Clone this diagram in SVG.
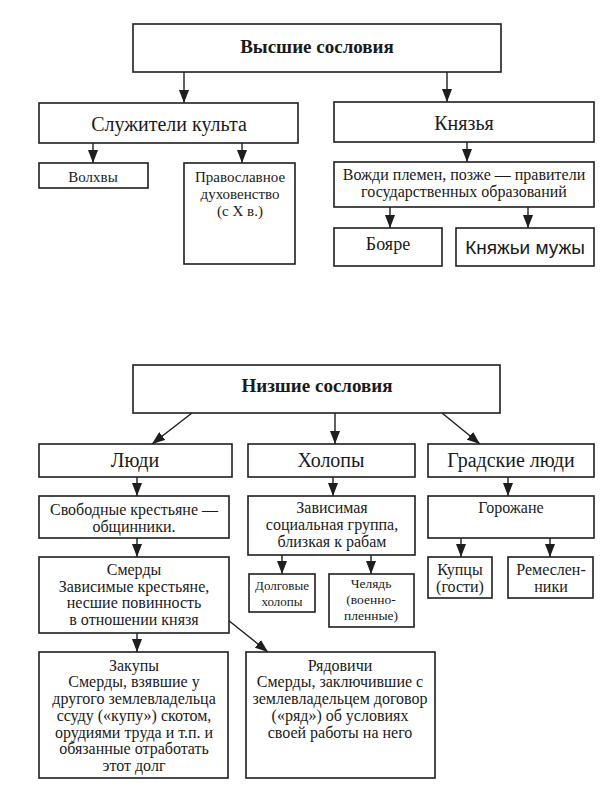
<svg xmlns="http://www.w3.org/2000/svg" width="605" height="806" viewBox="0 0 605 806">
<style>
.b{fill:#fff;stroke:#1e1e1e;stroke-width:1.6}
.t{font-family:"Liberation Serif","Times New Roman",serif;fill:#1a1a1a;text-anchor:middle}
.s{font-family:"Liberation Sans",Arial,sans-serif;fill:#1a1a1a;text-anchor:middle}
.c line{stroke:#1e1e1e;stroke-width:1.4;marker-end:url(#ah)}
</style>
<defs>
<marker id="ah" markerUnits="userSpaceOnUse" markerWidth="13" markerHeight="10" refX="13" refY="5" orient="auto" viewBox="0 0 13 10">
<path d="M0,0 L13,5 L0,10 z" fill="#1e1e1e"/>
</marker>
</defs>
<rect width="605" height="806" fill="#fff"/>
<g class="c" id="connectors">
<line x1="184" y1="72" x2="184" y2="103"/>
<line x1="447" y1="72" x2="447" y2="102"/>
<line x1="93" y1="143" x2="93" y2="163"/>
<line x1="242" y1="143" x2="242" y2="163"/>
<line x1="467" y1="142" x2="467" y2="162"/>
<line x1="390" y1="207" x2="390" y2="228"/>
<line x1="528" y1="207" x2="528" y2="228"/>
<line x1="192" y1="413" x2="152" y2="444"/>
<line x1="335" y1="413" x2="335" y2="444"/>
<line x1="442" y1="413" x2="480" y2="444"/>
<line x1="137" y1="477" x2="137" y2="496"/>
<line x1="333" y1="477" x2="333" y2="496"/>
<line x1="508" y1="477" x2="508" y2="496"/>
<line x1="137" y1="538" x2="137" y2="557"/>
<line x1="282" y1="555" x2="282" y2="574"/>
<line x1="371" y1="555" x2="371" y2="574"/>
<line x1="461" y1="538" x2="461" y2="557"/>
<line x1="550" y1="538" x2="550" y2="557"/>
<line x1="137" y1="633" x2="137" y2="652"/>
<line x1="228" y1="620" x2="268" y2="652"/>
</g>
<g id="vysshie"><rect class="b" x="133" y="24" width="368" height="48"/><text class="t" x="317" y="53" font-size="19" font-weight="bold">Высшие сословия</text></g>
<g id="sluzhiteli"><rect class="b" x="39" y="103" width="259" height="40"/><text class="t" x="169" y="131" font-size="20">Служители культа</text></g>
<g id="knyazya"><rect class="b" x="334" y="102" width="260" height="40"/><text class="t" x="464" y="130" font-size="20">Князья</text></g>
<g id="volkhvy"><rect class="b" x="39" y="163" width="109" height="25"/><text class="t" x="93" y="182" font-size="15">Волхвы</text></g>
<g id="pravoslavnoe"><rect class="b" x="184" y="163" width="111" height="101"/><text class="t" font-size="15"><tspan x="240" y="182">Православное</tspan><tspan x="240" y="199">духовенство</tspan><tspan x="240" y="216">(с X в.)</tspan></text></g>
<g id="vozhdi"><rect class="b" x="334" y="162" width="260" height="45"/><text class="t" font-size="16"><tspan x="464" y="180">Вожди племен, позже — правители</tspan><tspan x="464" y="197">государственных образований</tspan></text></g>
<g id="boyare"><rect class="b" x="334" y="228" width="108" height="38"/><text class="t" x="388" y="250" font-size="18">Бояре</text></g>
<g id="knyazhi-muzhi"><rect class="b" x="456" y="228" width="138" height="38"/><text class="s" x="525" y="254" font-size="19">Княжьи мужы</text></g>

<g id="nizshie"><rect class="b" x="133" y="365" width="367" height="48"/><text class="t" x="317" y="392" font-size="19" font-weight="bold">Низшие сословия</text></g>
<g id="lyudi"><rect class="b" x="39" y="444" width="193" height="33"/><text class="t" x="135" y="467" font-size="20">Люди</text></g>
<g id="kholopy"><rect class="b" x="248" y="444" width="167" height="33"/><text class="t" x="331" y="467" font-size="20">Холопы</text></g>
<g id="gradskie"><rect class="b" x="428" y="444" width="166" height="33"/><text class="t" x="511" y="467" font-size="20">Градские люди</text></g>
<g id="svobodnye"><rect class="b" x="39" y="496" width="190" height="42"/><text class="t" font-size="16"><tspan x="134" y="515">Свободные крестьяне —</tspan><tspan x="134" y="532">общинники.</tspan></text></g>
<g id="zavisimaya"><rect class="b" x="248" y="496" width="167" height="59"/><text class="t" font-size="16"><tspan x="332" y="513">Зависимая</tspan><tspan x="332" y="530">социальная группа,</tspan><tspan x="332" y="547">близкая к рабам</tspan></text></g>
<g id="gorozhane"><rect class="b" x="428" y="496" width="166" height="42"/><text class="t" x="511" y="513" font-size="16">Горожане</text></g>
<g id="smerdy"><rect class="b" x="39" y="557" width="190" height="76"/><text class="t" font-size="16"><tspan x="134" y="575">Смерды</tspan><tspan x="134" y="592">Зависимые крестьяне,</tspan><tspan x="134" y="608">несшие повинность</tspan><tspan x="134" y="625">в отношении князя</tspan></text></g>
<g id="dolgovye"><rect class="b" x="249" y="574" width="66" height="38"/><text class="t" font-size="13"><tspan x="282" y="590">Долговые</tspan><tspan x="282" y="606">холопы</tspan></text></g>
<g id="chelyad"><rect class="b" x="329" y="574" width="85" height="53"/><text class="t" font-size="13.5"><tspan x="371" y="588">Челядь</tspan><tspan x="371" y="604">(военно-</tspan><tspan x="371" y="620">пленные)</tspan></text></g>
<g id="kuptsy"><rect class="b" x="428" y="557" width="64" height="41"/><text class="t" font-size="16"><tspan x="460" y="575">Купцы</tspan><tspan x="460" y="592">(гости)</tspan></text></g>
<g id="remeslenniki"><rect class="b" x="508" y="557" width="85" height="41"/><text class="t" font-size="16"><tspan x="551" y="575">Ремеслен-</tspan><tspan x="551" y="592">ники</tspan></text></g>
<g id="zakupy"><rect class="b" x="39" y="652" width="189" height="126"/><text class="t" font-size="16"><tspan x="134" y="671">Закупы</tspan><tspan x="134" y="687">Смерды, взявшие у</tspan><tspan x="134" y="704">другого землевладельца</tspan><tspan x="134" y="721">ссуду («купу») скотом,</tspan><tspan x="134" y="738">орудиями труда и т.п. и</tspan><tspan x="134" y="754">обязанные отработать</tspan><tspan x="134" y="771">этот долг</tspan></text></g>
<g id="ryadovichi"><rect class="b" x="246" y="652" width="189" height="126"/><text class="t" font-size="16"><tspan x="340" y="671">Рядовичи</tspan><tspan x="340" y="687">Смерды, заключившие с</tspan><tspan x="340" y="704">землевладельцем договор</tspan><tspan x="340" y="721">(«ряд») об условиях</tspan><tspan x="340" y="738">своей работы на него</tspan></text></g>
</svg>
